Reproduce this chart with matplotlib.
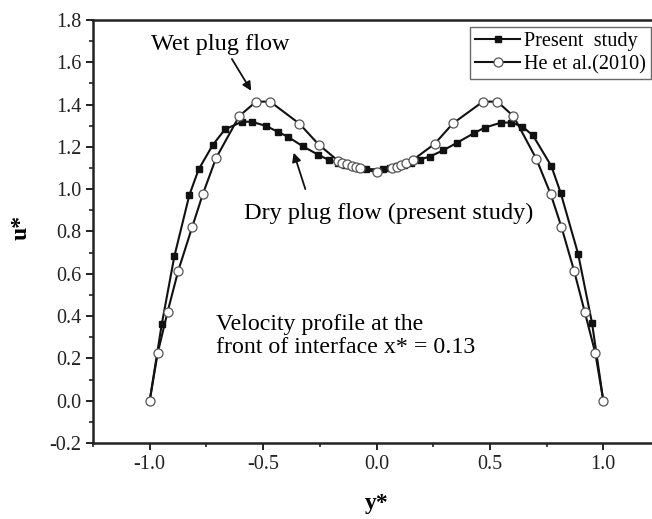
import matplotlib
matplotlib.use("Agg")
import matplotlib.pyplot as plt
from matplotlib.ticker import MultipleLocator

plt.rcParams['font.family'] = ['Liberation Serif', 'DejaVu Serif']
plt.rcParams['axes.unicode_minus'] = False

# present study (filled squares)
y_present = [-1.0, -0.947, -0.891, -0.825, -0.784, -0.722, -0.668, -0.593, -0.550,
             -0.487, -0.436, -0.391, -0.325, -0.259, -0.210, -0.17, -0.14, -0.11,
             -0.08, -0.045, 0.028, 0.06, 0.09, 0.12, 0.15, 0.19, 0.234, 0.293,
             0.356, 0.428, 0.477, 0.550, 0.594, 0.643, 0.690, 0.771, 0.812,
             0.889, 0.950, 1.0]
u_present = [0.0, 0.361, 0.684, 0.973, 1.094, 1.209, 1.283, 1.319, 1.319,
             1.299, 1.272, 1.248, 1.203, 1.164, 1.138, 1.125, 1.115, 1.108,
             1.100, 1.095, 1.094, 1.100, 1.108, 1.116, 1.126, 1.140, 1.154, 1.183,
             1.220, 1.264, 1.291, 1.315, 1.315, 1.296, 1.254, 1.109, 0.983,
             0.694, 0.369, 0.0]

# He et al. (2010) (open circles)
y_he = [-1.0, -0.965, -0.921, -0.874, -0.813, -0.766, -0.708, -0.605, -0.531,
        -0.469, -0.340, -0.255, -0.17, -0.15, -0.13, -0.11, -0.09, -0.072, 0.0,
        0.07, 0.09, 0.11, 0.13, 0.16, 0.256, 0.337, 0.469, 0.533, 0.604,
        0.704, 0.768, 0.815, 0.871, 0.918, 0.965, 1.0]
u_he = [0.0, 0.224, 0.421, 0.615, 0.820, 0.976, 1.146, 1.346, 1.414,
        1.414, 1.310, 1.211, 1.135, 1.126, 1.118, 1.110, 1.103, 1.099, 1.080,
        1.100, 1.106, 1.113, 1.122, 1.138, 1.214, 1.311, 1.414, 1.414, 1.345,
        1.145, 0.977, 0.823, 0.615, 0.421, 0.224, 0.0]

fig = plt.figure(figsize=(6.52, 5.19), dpi=100)
ax = fig.add_axes([93 / 652, 76 / 519, 567 / 652, 423 / 519])

ax.plot(y_present, u_present, '-', color='#111111', lw=1.5, marker='s', ms=5,
        mfc='#111111', mec='#111111', label='Present  study', zorder=3)
ax.plot(y_he, u_he, '-', color='#111111', lw=1.5, marker='o', ms=6.5,
        mfc='white', mec='#555555', mew=0.9, label='He et al.(2010)', zorder=4)

ax.set_xlim(-1.25, 1.25)
ax.set_ylim(-0.2, 1.8)
ax.set_xticks([-1.0, -0.5, 0.0, 0.5, 1.0])
ax.set_yticks([-0.2, 0.0, 0.2, 0.4, 0.6, 0.8, 1.0, 1.2, 1.4, 1.6, 1.8])
ax.xaxis.set_minor_locator(MultipleLocator(0.25))
ax.yaxis.set_minor_locator(MultipleLocator(0.1))
ax.tick_params(which='major', direction='out', length=5, width=1.4, labelsize=14.5,
               colors='#222222')
ax.tick_params(which='minor', direction='out', length=3, width=1.2, colors='#222222')
ax.tick_params(top=False, right=False, which='both')
for s in ['left', 'bottom', 'top']:
    ax.spines[s].set_linewidth(1.8)
    ax.spines[s].set_color('#222222')
ax.spines['right'].set_visible(False)

fig.text(377 / 652, 1 - 503 / 519, 'y*', fontsize=17, fontweight='bold',
         ha='center', va='center')
fig.text(21 / 652, 1 - 227 / 519, 'u*', fontsize=17, fontweight='bold',
         ha='center', va='center', rotation=90)

ax.text(-0.995, 1.682, 'Wet plug flow', fontsize=17.5, va='center', ha='left')
ax.annotate('', xy=(-0.546, 1.454), xytext=(-0.644, 1.627),
            arrowprops=dict(arrowstyle='-|>', color='#111111', lw=1.3, mutation_scale=13))
ax.text(-0.583, 0.887, 'Dry plug flow (present study)', fontsize=17.5,
        va='center', ha='left')
ax.annotate('', xy=(-0.369, 1.185), xytext=(-0.31, 0.988),
            arrowprops=dict(arrowstyle='-|>', color='#111111', lw=1.3, mutation_scale=13))
ax.text(-0.707, 0.307, 'Velocity profile at the\nfront of interface x* = 0.13',
        fontsize=17.2, va='center', ha='left', linespacing=1.15)

leg = ax.legend(loc='upper right', bbox_to_anchor=(651 / 652, 1 - 26.7 / 519),
                bbox_transform=fig.transFigure, fontsize=14.6, frameon=True,
                fancybox=False, edgecolor='#444444', handlelength=2.2,
                labelspacing=0.2, borderpad=0.25, handletextpad=0.2,
                borderaxespad=0)
leg.get_frame().set_linewidth(1.0)

fig.savefig('out.png', dpi=100)
